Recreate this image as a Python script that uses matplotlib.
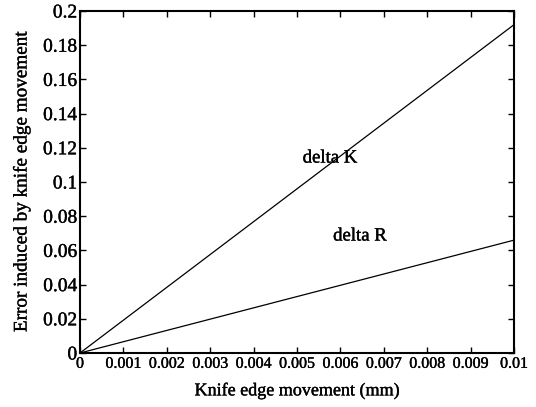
import numpy as np
import matplotlib
matplotlib.use('Agg')
import matplotlib.pyplot as plt
import matplotlib.patheffects as pe

plt.rcParams['font.family'] = ['Liberation Serif', 'DejaVu Serif']

movimiento = [0, 0.001, 0.002, 0.003, 0.004, 0.005, 0.006, 0.007, 0.008, 0.009, 0.01]
delta_k = [0, 0.0192, 0.0384, 0.0576, 0.0768, 0.096, 0.1152, 0.1344, 0.1536, 0.1728, 0.192]
delta_r = [0, 0.0066, 0.0132, 0.0198, 0.0264, 0.033, 0.0396, 0.0462, 0.0528, 0.0594, 0.066]
xticks = [0, 0.001, 0.002, 0.003, 0.004, 0.005, 0.006, 0.007, 0.008, 0.009, 0.01]
xtick_labels = ['0', '0.001', '0.002', '0.003', '0.004', '0.005', '0.006', '0.007', '0.008', '0.009', '0.01']
yticks = [0, 0.02, 0.04, 0.06, 0.08, 0.1, 0.12, 0.14, 0.16, 0.18, 0.2]
ytick_labels = ['0', '0.02', '0.04', '0.06', '0.08', '0.1', '0.12', '0.14', '0.16', '0.18', '0.2']

grueso = [pe.withStroke(linewidth=0.25, foreground='black')]

fig = plt.figure(figsize=(5.36, 4.07), dpi=100)
ax = fig.add_axes([80/536, 1 - 353/407, 434/536, 342/407])

ax.plot(movimiento, delta_k, color='black', linewidth=0.9)
ax.plot(movimiento, delta_r, color='black', linewidth=0.9)

ax.text(0.00576, 0.114, 'delta K', fontsize=13.5, ha='center', va='center', path_effects=grueso)
ax.text(0.00645, 0.0684, 'delta R', fontsize=13.5, ha='center', va='center', path_effects=grueso)

ax.set_xlim(0, 0.01)
ax.set_ylim(0, 0.2)
ax.set_xticks(xticks)
ax.set_xticklabels(xtick_labels, fontsize=11.5)
ax.set_yticks(yticks)
ax.set_yticklabels(ytick_labels, fontsize=14)
ax.tick_params(direction='in', top=True, right=True, length=4, width=1, pad=2)
for lbl in ax.get_xticklabels() + ax.get_yticklabels():
    lbl.set_path_effects(grueso)
for s in ax.spines.values():
    s.set_linewidth(1.5)

ax.set_xlabel('Knife edge movement (mm)', fontsize=13, labelpad=7, path_effects=grueso)
ax.set_ylabel('Error induced by knife edge movement', fontsize=13.8, labelpad=9, path_effects=grueso)

plt.savefig('out.png', dpi=100)
